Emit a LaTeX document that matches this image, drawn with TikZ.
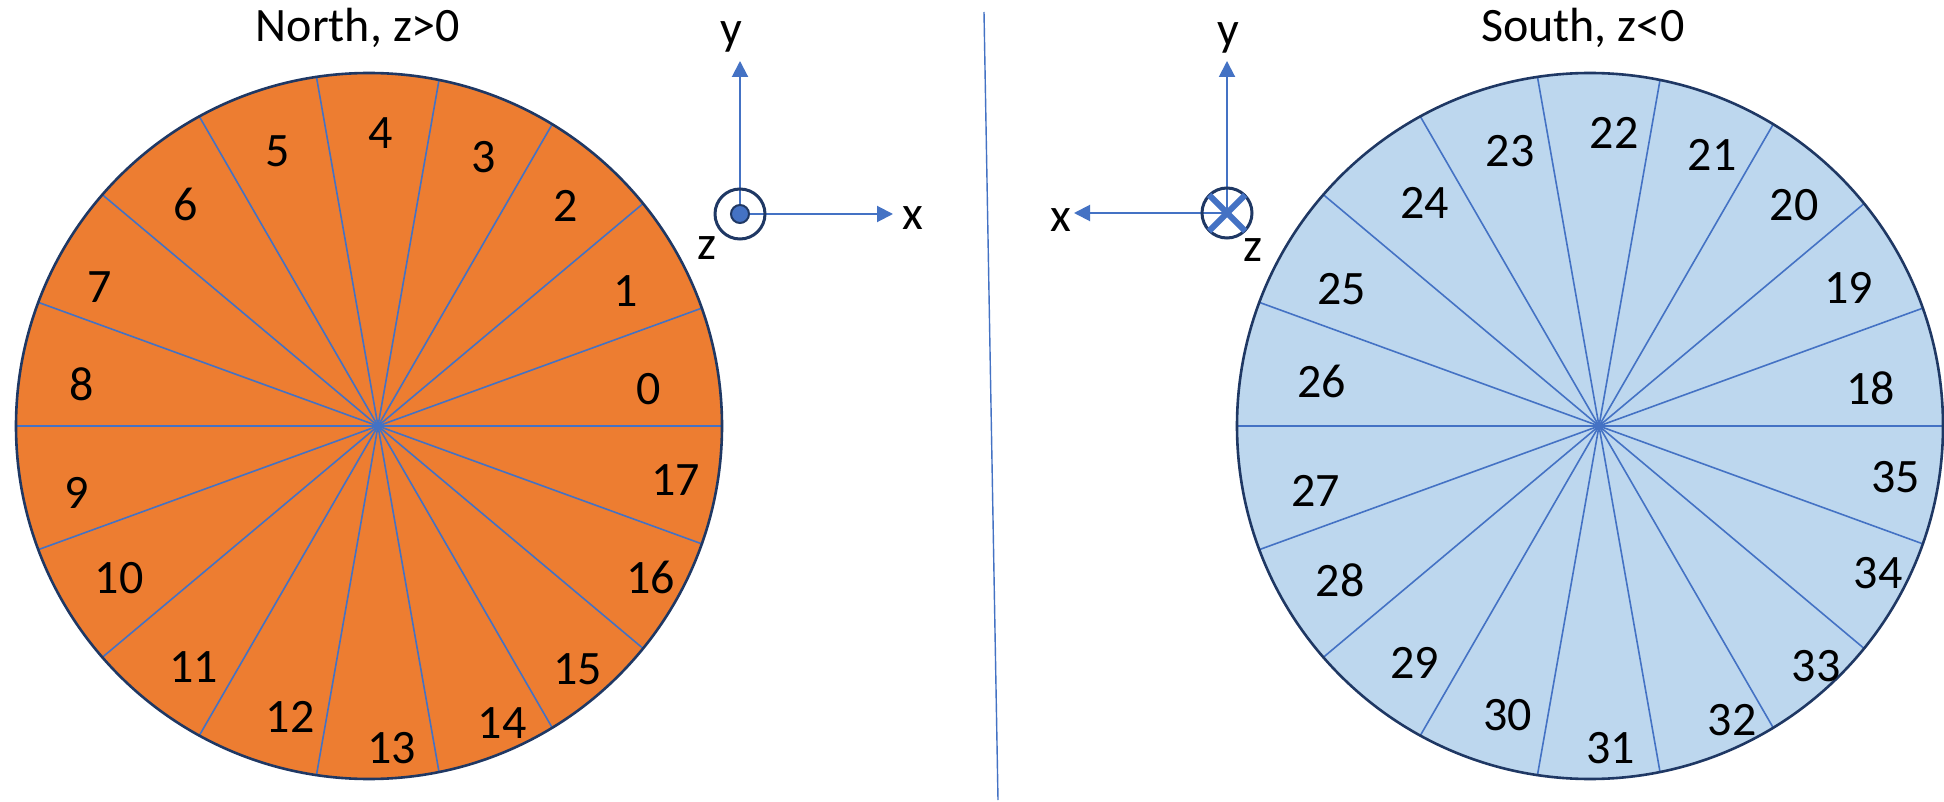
\documentclass[tikz,border=0pt]{standalone}
\usepackage{fontspec}
\setmainfont{Carlito}
\usetikzlibrary{arrows.meta}
\definecolor{orng}{HTML}{ED7D31}
\definecolor{lblue}{HTML}{BDD7EE}
\definecolor{sblue}{HTML}{4472C4}
\definecolor{navy}{HTML}{1F3864}
\begin{document}
\begin{tikzpicture}[x=0.5pt,y=-0.5pt,
  spoke/.style={draw=sblue,line width=0.8pt},
  rim/.style={draw=navy,line width=1.3pt},
  lbl/.style={font=\fontsize{24}{28}\selectfont,text=black,inner sep=0pt},
  axis/.style={draw=sblue,line width=1pt,-{Triangle[length=8pt,width=8pt]}},
  ring/.style={draw=navy,line width=1.5pt},
  crossline/.style={draw=sblue,line width=3pt},
  divider/.style={draw=sblue,line width=0.7pt}]
\useasboundingbox (0,0) rectangle (1944,802);
\fill[white] (0,0) rectangle (1944,802);

% ---------- North ----------
\coordinate (cN) at (369,426);
\coordinate (sN) at (378,426);
\fill[orng] (cN) circle[radius=353];
\begin{scope}
  \clip (cN) circle[radius=353];
  \foreach \a in {0,20,...,340} \draw[spoke] (sN) -- ++(\a:430);
\end{scope}
\draw[rim] (cN) circle[radius=353];
\foreach \t/\x/\y in {4/380.6/132.7,3/483.5/157.5,5/277.7/151.3,2/565.3/205.8,6/186/204.6,
  1/626.1/291.4,7/99.2/287.6,0/648.4/389.3,8/81.8/384.3,17/675.7/479.8,9/76.9/493.4,
  16/650.9/577.7,10/119/577.7,15/577.7/669.5,11/193.4/667,14/502.1/722.8,12/290.1/716.6,13/391.8/747.6}
  \node[lbl] (N\t) at (\x,\y) {\t};
\node[lbl,anchor=base] (tN) at (358,42) {North, z>0};

% axes North
\coordinate (oA) at (740,214);
\coordinate (yA) at (740,61);
\coordinate (xA) at (893,214);
\draw[axis] (oA) -- (yA);
\draw[axis] (oA) -- (xA);
\draw[ring] (oA) circle[radius=25];
\draw[navy,line width=1pt,fill=sblue] (oA) circle[radius=9];
\node[lbl] (xlA) at (913,218) {x};
\node[lbl] (ylA) at (731,37) {y};
\node[lbl] (zlA) at (707,248) {z};

% divider
\coordinate (d1) at (984,12);
\coordinate (d2) at (998,800);
\draw[divider] (d1) -- (d2);

% ---------- South ----------
\coordinate (cS) at (1590,426);
\coordinate (sS) at (1599,426);
\fill[lblue] (cS) circle[radius=353];
\begin{scope}
  \clip (cS) circle[radius=353];
  \foreach \a in {0,20,...,340} \draw[spoke] (sS) -- ++(\a:430);
\end{scope}
\draw[rim] (cS) circle[radius=353];
\foreach \t/\x/\y in {22/1614.2/132.7,21/1712.2/155,23/1510.1/151.3,20/1794/204.6,24/1424.5/203.3,
  19/1848.5/287.6,25/1341.5/288.9,18/1870.9/388,26/1321.6/381.9,35/1895.6/477.3,27/1315.4/491,
  34/1878.3/572.8,28/1340.2/580.2,33/1816.3/665.8,29/1414.6/663.3,32/1732/720.3,30/1507.6/715.4,31/1610.5/747.6}
  \node[lbl] (S\t) at (\x,\y) {\t};
\node[lbl,anchor=base] (tS) at (1583,42) {South, z<0};

% axes South
\coordinate (oB) at (1227,213);
\coordinate (yB) at (1227,61);
\coordinate (xB) at (1074,213);
\draw[axis] (oB) -- (yB);
\draw[axis] (oB) -- (xB);
\draw[ring] (oB) circle[radius=25];
\coordinate (b1) at (1209,195);
\coordinate (b2) at (1245,231);
\coordinate (b3) at (1245,195);
\coordinate (b4) at (1209,231);
\draw[crossline] (b1) -- (b2);
\draw[crossline] (b3) -- (b4);
\node[lbl] (xlB) at (1061,220) {x};
\node[lbl] (ylB) at (1228,38) {y};
\node[lbl] (zlB) at (1253,250) {z};
\end{tikzpicture}
\end{document}
